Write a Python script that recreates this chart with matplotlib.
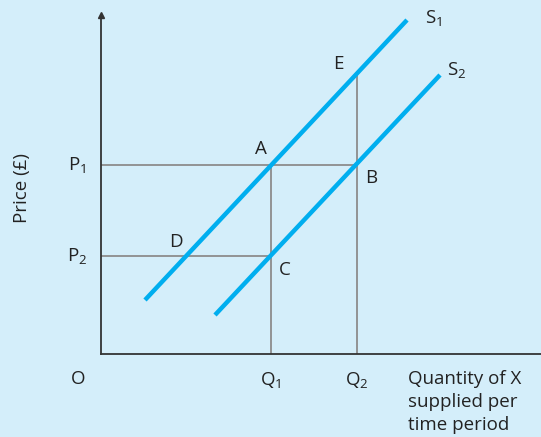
import matplotlib.pyplot as plt

plt.rcParams['font.family'] = ['Open Sans', 'DejaVu Sans']
plt.rcParams['mathtext.fontset'] = 'custom'
plt.rcParams['mathtext.rm'] = 'Open Sans'

# supply curves (quantity, price), origin at O
s1_x = [4.4, 30.6]
s1_y = [5.4, 33.4]
s2_x = [11.4, 33.9]
s2_y = [3.9, 27.9]

q_levels = [17.0, 25.6]
p_levels = [18.9, 9.8]
q_labels = [r'$\mathregular{Q_1}$', r'$\mathregular{Q_2}$']
p_labels = [r'$\mathregular{P_1}$', r'$\mathregular{P_2}$']

# lettered points
pt_names = ['A', 'B', 'C', 'D', 'E']
pt_x = [17.0, 25.6, 17.0, 8.5, 25.6]
pt_y = [18.9, 18.9, 9.8, 9.8, 28.1]
pt_dx = [-1.0, 1.4, 1.4, -1.0, -1.9]
pt_dy = [1.6, -1.3, -1.4, 1.4, 0.9]

bg = '#d4eefa'
cyan = '#00aeef'
grey = '#8c8c8c'
ink = '#222222'

fig = plt.figure(figsize=(5.41, 4.37), dpi=100, facecolor=bg)
ax = fig.add_axes([101 / 541, 83 / 437, 440 / 541, 354 / 437])
ax.set_facecolor(bg)
ax.set_xlim(0, 44)
ax.set_ylim(0, 35.4)
for s in ['top', 'right']:
    ax.spines[s].set_visible(False)
for s in ['left', 'bottom']:
    ax.spines[s].set_color('#333333')
    ax.spines[s].set_linewidth(1.3)
ax.spines['left'].set_bounds(0, 33.9)
ax.set_xticks([])
ax.set_yticks([])

# y axis arrowhead
ax.plot([0], [33.9], marker='^', color='#333333', markersize=5, clip_on=False)

# guide lines
ax.plot([0, q_levels[1]], [p_levels[0]] * 2, color=grey, lw=1.3)
ax.plot([0, q_levels[0]], [p_levels[1]] * 2, color=grey, lw=1.3)
ax.plot([q_levels[0]] * 2, [0, p_levels[0]], color=grey, lw=1.3)
ax.plot([q_levels[1]] * 2, [0, pt_y[4]], color=grey, lw=1.3)

ax.plot(s1_x, s1_y, color=cyan, lw=3.2, solid_capstyle='butt')
ax.plot(s2_x, s2_y, color=cyan, lw=3.2, solid_capstyle='butt')

fs = 13.5
ax.text(s1_x[1] + 1.8, s1_y[1] + 0.2, r'$\mathregular{S_1}$', fontsize=fs, ha='left', va='center', color=ink)
ax.text(s2_x[1] + 0.7, s2_y[1] + 0.5, r'$\mathregular{S_2}$', fontsize=fs, ha='left', va='center', color=ink)

for n, x, y, dx, dy in zip(pt_names, pt_x, pt_y, pt_dx, pt_dy):
    ax.text(x + dx, y + dy, n, fontsize=fs, ha='center', va='center', color=ink)

for q, lab in zip(q_levels, q_labels):
    ax.text(q, -2.6, lab, fontsize=fs, ha='center', va='center', color=ink)
for p, lab in zip(p_levels, p_labels):
    ax.text(-2.4, p, lab, fontsize=fs, ha='center', va='center', color=ink)
ax.text(-2.3, -2.5, 'O', fontsize=fs, ha='center', va='center', color=ink)

ax.text(30.7, -1.55, 'Quantity of X\nsupplied per\ntime period', fontsize=fs, ha='left', va='top',
        linespacing=1.36, color=ink)
ax.text(-7.9, 16.6, 'Price (£)', fontsize=fs, rotation=90, ha='center', va='center', color=ink)

fig.savefig('out.png', dpi=100, facecolor=bg)
